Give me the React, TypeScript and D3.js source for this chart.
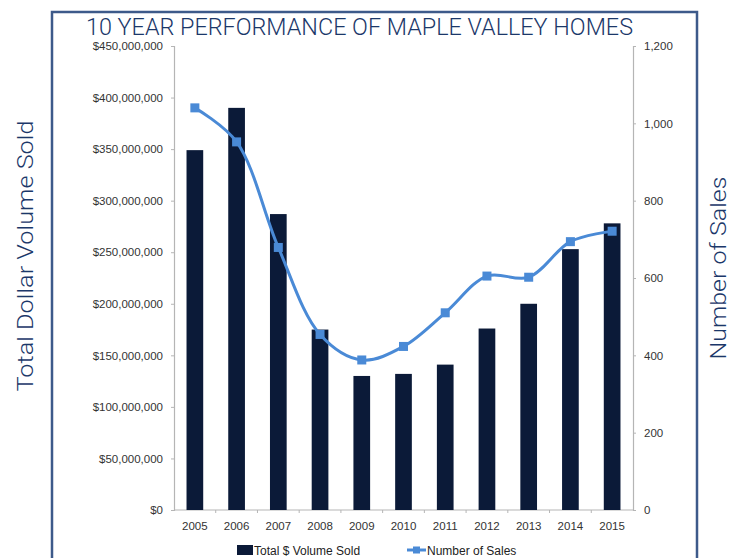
import React, { useEffect, useRef } from 'react';
import * as d3 from 'd3';

const years: string[] = ['2005', '2006', '2007', '2008', '2009', '2010', '2011', '2012', '2013', '2014', '2015'];
const volumeSold: number[] = [349e6, 390e6, 287e6, 175e6, 130e6, 132e6, 141e6, 176e6, 200e6, 253e6, 278e6];
const numberOfSales: number[] = [1040, 952, 679, 454, 388, 423, 510, 605, 602, 694, 721];
const volumeTicks: number[] = [0, 50e6, 100e6, 150e6, 200e6, 250e6, 300e6, 350e6, 400e6, 450e6];
const salesTicks: number[] = [0, 200, 400, 600, 800, 1000, 1200];

const W = 742;
const H = 558;

const App: React.FC = () => {
    const ref = useRef<SVGSVGElement | null>(null);

    useEffect(() => {
        const el = ref.current;
        if (!el) return;
        const svg = d3.select(el);
        svg.selectAll('*').remove();

        const left = 174, right = 633, top = 46, bottom = 510;
        const barColor = '#0b1a38';
        const lineColor = '#4a8ad6';
        const navy = '#1b3769';
        const tickFont = '"Liberation Sans", Arial, sans-serif';
        const titleFont = 'Roboto, "Liberation Sans", sans-serif';
        const tickSize = 11.5;

        // frame
        svg.append('path')
            .attr('d', `M52,${H + 5} L52,12 L697,12 L697,${H + 5}`)
            .attr('fill', 'none')
            .attr('stroke', '#3d5a8a')
            .attr('stroke-width', 2.5);

        svg.append('text')
            .attr('x', 86).attr('y', 35)
            .attr('font-family', titleFont)
            .attr('font-weight', 300)
            .attr('font-size', 23)
            .attr('fill', navy)
            .attr('textLength', 547)
            .attr('lengthAdjust', 'spacingAndGlyphs')
            .text('10 YEAR PERFORMANCE OF MAPLE VALLEY HOMES');

        const x = d3.scaleBand<string>().domain(years).range([left, right]).paddingInner(0.6).paddingOuter(0.3);
        const xTicks = d3.scaleBand<string>().domain(years).range([left, right]);
        const yL = d3.scaleLinear().domain([0, 450e6]).range([bottom, top]);
        const yR = d3.scaleLinear().domain([0, 1200]).range([bottom, top]);

        const axisStyle = (g: d3.Selection<SVGGElement, unknown, null, undefined>) => {
            g.select('.domain').attr('stroke', '#b5b5b5').attr('stroke-width', 1.2);
            g.selectAll('.tick line').attr('stroke', '#b5b5b5');
            g.selectAll('.tick text')
                .attr('fill', '#333')
                .attr('font-family', tickFont)
                .attr('font-size', tickSize);
        };

        const fmtMoney = (d: d3.NumberValue) => '$' + d3.format(',')(d as number);

        svg.append('g')
            .attr('transform', `translate(${left},0)`)
            .call(d3.axisLeft(yL).tickValues(volumeTicks).tickFormat(fmtMoney).tickSize(3).tickSizeOuter(3).tickPadding(8))
            .call(axisStyle);

        svg.append('g')
            .attr('transform', `translate(${right},0)`)
            .call(d3.axisRight(yR).tickValues(salesTicks).tickFormat(d3.format(',')).tickSize(3).tickSizeOuter(3).tickPadding(8))
            .call(axisStyle);

        // x axis: line + boundary ticks
        const xg = svg.append('g');
        xg.append('line')
            .attr('x1', left).attr('x2', right)
            .attr('y1', bottom).attr('y2', bottom)
            .attr('stroke', '#b5b5b5').attr('stroke-width', 1.2);
        xg.selectAll('line.bt')
            .data(years.slice(1))
            .enter()
            .append('line')
            .attr('class', 'bt')
            .attr('x1', (d) => xTicks(d) as number)
            .attr('x2', (d) => xTicks(d) as number)
            .attr('y1', bottom).attr('y2', bottom + 3)
            .attr('stroke', '#b5b5b5');
        xg.selectAll('text')
            .data(years)
            .enter()
            .append('text')
            .attr('x', (d) => (xTicks(d) as number) + xTicks.bandwidth() / 2)
            .attr('y', bottom + 20)
            .attr('text-anchor', 'middle')
            .attr('fill', '#333')
            .attr('font-family', tickFont)
            .attr('font-size', tickSize)
            .text((d) => d);

        // bars
        svg.append('g')
            .selectAll('rect')
            .data(volumeSold)
            .enter()
            .append('rect')
            .attr('x', (_, i) => x(years[i]) as number)
            .attr('y', (d) => yL(d))
            .attr('width', x.bandwidth())
            .attr('height', (d) => bottom - yL(d))
            .attr('fill', barColor);

        // line
        const cx = (i: number) => (x(years[i]) as number) + x.bandwidth() / 2;
        const line = d3.line<number>()
            .x((_, i) => cx(i))
            .y((d) => yR(d))
            .curve(d3.curveCatmullRom.alpha(0.5));
        svg.append('path')
            .datum(numberOfSales)
            .attr('d', line)
            .attr('fill', 'none')
            .attr('stroke', lineColor)
            .attr('stroke-width', 3);
        svg.append('g')
            .selectAll('rect')
            .data(numberOfSales)
            .enter()
            .append('rect')
            .attr('x', (_, i) => cx(i) - 4.5)
            .attr('y', (d) => yR(d) - 4.5)
            .attr('width', 9).attr('height', 9)
            .attr('fill', lineColor);

        // axis titles
        svg.append('text')
            .attr('transform', 'translate(33,256) rotate(-90)')
            .attr('text-anchor', 'middle')
            .attr('font-family', titleFont)
            .attr('font-weight', 300)
            .attr('font-size', 22)
            .attr('fill', navy)
            .attr('textLength', 271)
            .attr('lengthAdjust', 'spacingAndGlyphs')
            .text('Total Dollar Volume Sold');
        svg.append('text')
            .attr('transform', 'translate(726,268) rotate(-90)')
            .attr('text-anchor', 'middle')
            .attr('font-family', titleFont)
            .attr('font-weight', 300)
            .attr('font-size', 22)
            .attr('fill', navy)
            .attr('textLength', 183)
            .attr('lengthAdjust', 'spacingAndGlyphs')
            .text('Number of Sales');

        // legend
        const lg = svg.append('g').attr('font-family', tickFont).attr('font-size', 12).attr('fill', '#222');
        lg.append('rect').attr('x', 237).attr('y', 545).attr('width', 16).attr('height', 10).attr('fill', barColor);
        lg.append('text').attr('x', 254).attr('y', 555).text('Total $ Volume Sold');
        lg.append('line').attr('x1', 407).attr('x2', 426).attr('y1', 550).attr('y2', 550)
            .attr('stroke', lineColor).attr('stroke-width', 3);
        lg.append('rect').attr('x', 413).attr('y', 546.5).attr('width', 7).attr('height', 7).attr('fill', lineColor);
        lg.append('text').attr('x', 427).attr('y', 555).text('Number of Sales');
    }, []);

    return (
        <svg
            ref={ref}
            width={W}
            height={H}
            style={{ position: 'fixed', left: 0, top: 0, background: '#fff' }}
        />
    );
};

export default App;
